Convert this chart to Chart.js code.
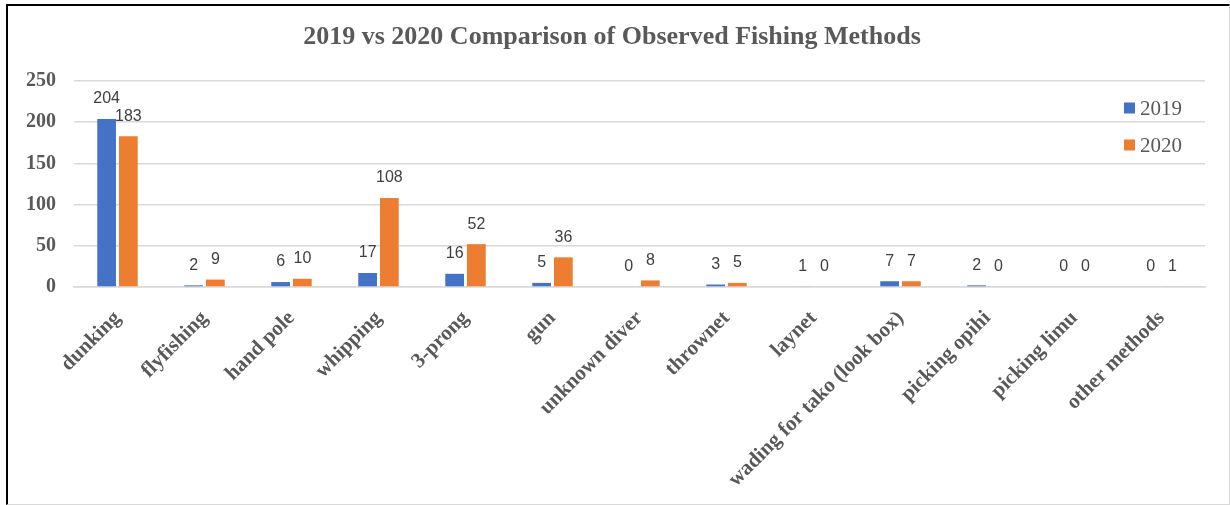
<!DOCTYPE html>
<html>
<head>
<meta charset="utf-8">
<script src="https://cdn.jsdelivr.net/npm/chart.js@4"></script>
<style>
  html, body { margin: 0; padding: 0; background: #fff; }
  #frame {
    position: absolute; left: 6px; top: 4px;
    width: 1221px; height: 498px;
    border-top: 2px solid #000; border-left: 2px solid #000;
    border-right: 1px solid #d9d9d9; border-bottom: 1px solid #d9d9d9;
  }
  #wrap { position: absolute; left: 0; top: 0; width: 1220px; height: 497px; }
</style>
</head>
<body>
<div id="frame"><div id="wrap"><canvas id="c"></canvas></div></div>
<script>
const chartTitle = "2019 vs 2020 Comparison of Observed Fishing Methods";
const categories = ["dunking", "flyfishing", "hand pole", "whipping", "3-prong", "gun", "unknown diver", "thrownet", "laynet", "wading for tako (look box)", "picking opihi", "picking limu", "other methods"];
const values2019 = [204, 2, 6, 17, 16, 5, 0, 3, 1, 7, 2, 0, 0];
const values2020 = [183, 9, 10, 108, 52, 36, 8, 5, 0, 7, 0, 0, 1];
const seriesNames = ["2019", "2020"];
const yTicks = [0, 50, 100, 150, 200, 250];

const serif = '"Liberation Serif", "Times New Roman", serif';

const titlePlugin = {
  id: 'titlePlugin',
  afterDraw(chart) {
    const ctx = chart.ctx;
    ctx.save();
    ctx.font = 'bold 26px ' + serif;
    ctx.fillStyle = '#595959';
    ctx.textAlign = 'center';
    ctx.textBaseline = 'middle';
    ctx.fillText(chartTitle, 604, 31);
    ctx.restore();
  }
};

const dataLabels = {
  id: 'dataLabels',
  afterDatasetsDraw(chart) {
    const ctx = chart.ctx;
    ctx.save();
    ctx.font = '16px "Liberation Sans", Arial, sans-serif';
    ctx.fillStyle = '#404040';
    ctx.textAlign = 'center';
    ctx.textBaseline = 'middle';
    chart.data.datasets.forEach((ds, i) => {
      chart.getDatasetMeta(i).data.forEach((el, j) => {
        ctx.fillText(String(ds.data[j]), el.x, el.y - 20);
      });
    });
    ctx.restore();
  }
};

const sideLegend = {
  id: 'sideLegend',
  afterDraw(chart) {
    const ctx = chart.ctx;
    const ca = chart.chartArea;
    ctx.save();
    ctx.font = '21px ' + serif;
    ctx.textBaseline = 'middle';
    ctx.textAlign = 'left';
    chart.data.datasets.forEach((ds, i) => {
      const cy = ca.top + 27 + i * 37;
      const x = ca.right - 81;
      ctx.fillStyle = ds.backgroundColor;
      ctx.fillRect(x, cy - 5.5, 11, 11);
      ctx.fillStyle = '#595959';
      ctx.fillText(ds.label, x + 16, cy + 1);
    });
    ctx.restore();
  }
};

new Chart(document.getElementById('c'), {
  type: 'bar',
  data: {
    labels: categories,
    datasets: [
      { label: seriesNames[0], data: values2019, backgroundColor: '#4472C4', barPercentage: 0.86, categoryPercentage: 0.5 },
      { label: seriesNames[1], data: values2020, backgroundColor: '#ED7D31', barPercentage: 0.86, categoryPercentage: 0.5 }
    ]
  },
  options: {
    responsive: true,
    maintainAspectRatio: false,
    animation: false,
    layout: { padding: { left: 0, right: 23, top: 75, bottom: 0 } },
    plugins: {
      legend: { display: false },
      tooltip: { enabled: false },
      title: { display: false }
    },
    scales: {
      x: {
        grid: { display: false, drawTicks: false },
        border: { display: true, color: '#d9d9d9', width: 1.5 },
        ticks: {
          color: '#595959',
          font: { family: serif, size: 21, weight: 'bold' },
          minRotation: 45, maxRotation: 45, autoSkip: false, padding: 19
        },
        afterFit(scale) { scale.height = 216; }
      },
      y: {
        min: 0, max: 250,
        afterBuildTicks(scale) { scale.ticks = yTicks.map(v => ({ value: v })); },
        grid: { color: '#d9d9d9', lineWidth: 1.5, drawTicks: false },
        border: { display: false },
        ticks: {
          color: '#595959',
          padding: 18,
          font: { family: serif, size: 20, weight: 'bold' }
        },
        afterFit(scale) { scale.width = 66; }
      }
    }
  },
  plugins: [titlePlugin, dataLabels, sideLegend]
});
</script>
</body>
</html>
